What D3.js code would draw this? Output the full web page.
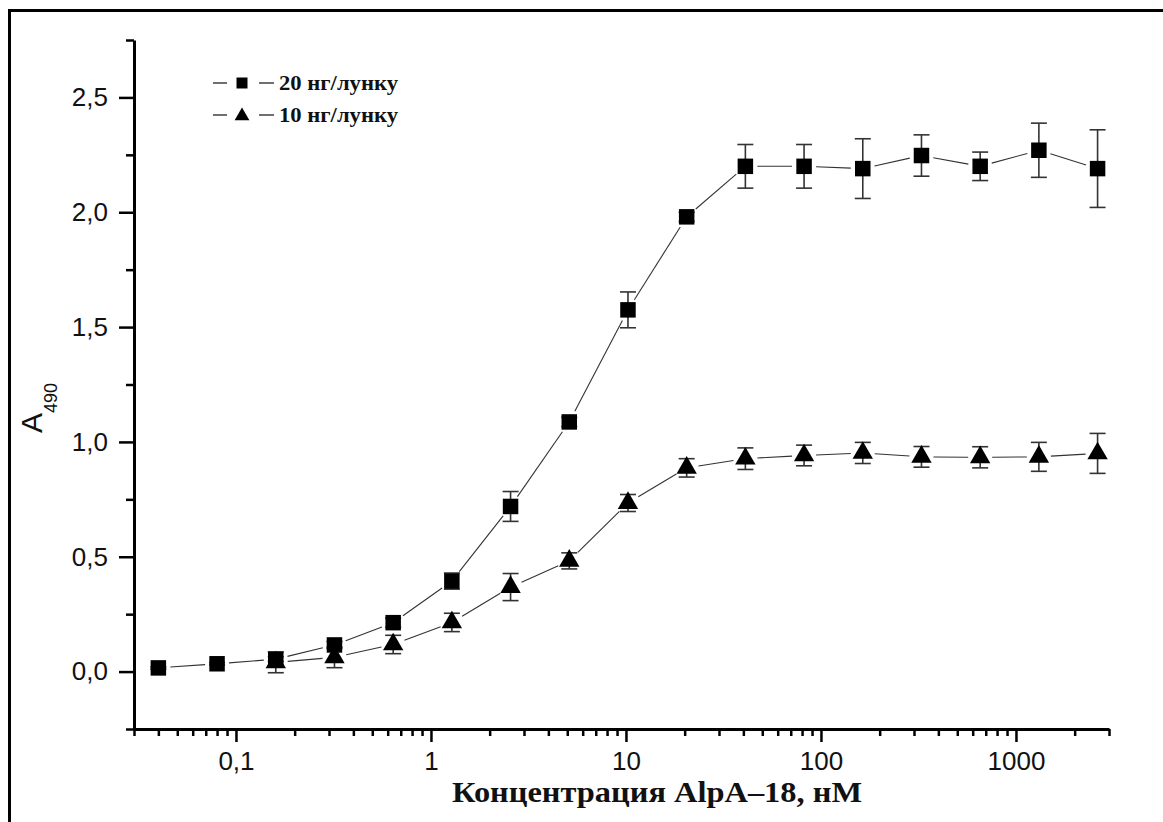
<!DOCTYPE html>
<html>
<head>
<meta charset="utf-8">
<script src="https://cdn.jsdelivr.net/npm/d3@7"></script>
<style>
    body { margin: 0; background: #fff; }
    svg text { fill: #111; }
    .axis text { font-family: "Liberation Sans", Arial, sans-serif; font-size: 26px; }
    .axis path, .axis line { stroke: #000; }
    .serif-bold { font-family: "Liberation Serif", "Times New Roman", serif; font-weight: bold; }
</style>
</head>
<body>
<div id="chart"></div>
<script>

// AlpA-18 concentration, nM
let conc20 = [0.04, 0.08, 0.16, 0.32, 0.64, 1.28, 2.56, 5.12, 10.24, 20.48, 40.96, 81.92, 163.84, 327.68, 655.36, 1310.72, 2621.44];
// 20 ng per well
let a490_20 = [0.016, 0.034, 0.054, 0.116, 0.213, 0.394, 0.719, 1.087, 1.575, 1.98, 2.20, 2.20, 2.19, 2.247, 2.20, 2.27, 2.19];
let err_20 = [0.005, 0.005, 0.01, 0.015, 0.02, 0.035, 0.065, 0.02, 0.078, 0.02, 0.095, 0.095, 0.13, 0.09, 0.062, 0.118, 0.169];

let conc10 = [0.16, 0.32, 0.64, 1.28, 2.56, 5.12, 10.24, 20.48, 40.96, 81.92, 163.84, 327.68, 655.36, 1310.72, 2621.44];
// 10 ng per well
let a490_10 = [0.040, 0.062, 0.118, 0.214, 0.368, 0.482, 0.734, 0.887, 0.927, 0.941, 0.952, 0.935, 0.933, 0.935, 0.95];
let err_10 = [0.045, 0.045, 0.04, 0.04, 0.059, 0.035, 0.037, 0.04, 0.047, 0.045, 0.046, 0.045, 0.046, 0.063, 0.087];

let legendLabels = ["20 нг/лунку", "10 нг/лунку"];

let xTickValues = [0.1, 1, 10, 100, 1000];
let xTickLabels = ["0,1", "1", "10", "100", "1000"];
let yTickValues = [0, 0.5, 1, 1.5, 2, 2.5];
let yTickLabels = ["0,0", "0,5", "1,0", "1,5", "2,0", "2,5"];
let yMinorValues = [-0.25, 0.25, 0.75, 1.25, 1.75, 2.25, 2.75];


class BindingVis {

    constructor(parentElement) {
        this.parentElement = parentElement;
        this.initVis();
    }

    initVis() {
        let vis = this;

        vis.margin = {top: 40, right: 54, bottom: 93, left: 134};
        vis.width = 1163 - vis.margin.left - vis.margin.right;
        vis.height = 822 - vis.margin.top - vis.margin.bottom;

        vis.root = d3.select("#" + vis.parentElement).append("svg")
            .attr("width", 1163)
            .attr("height", 822);

        // outer frame (top + left only)
        vis.root.append("path")
            .attr("d", "M9.5,822 V10.5 H1163")
            .attr("fill", "none")
            .attr("stroke", "#000")
            .attr("stroke-width", 3);

        vis.svg = vis.root.append("g")
            .attr("transform", `translate(${vis.margin.left}, ${vis.margin.top})`);

        // Scales
        vis.x = d3.scaleLog()
            .domain([0.03, 3000])
            .range([0, vis.width]);

        vis.y = d3.scaleLinear()
            .domain([-0.25, 2.75])
            .range([vis.height, 0]);

        vis.wrangleData();
    }

    wrangleData() {
        let vis = this;

        vis.displayData = [
            {key: "sq", symbol: d3.symbolSquare, size: 240,
                values: conc20.map((c, i) => ({conc: c, a: a490_20[i], err: err_20[i]}))},
            {key: "tri", symbol: d3.symbolTriangle, size: 180,
                values: conc10.map((c, i) => ({conc: c, a: a490_10[i], err: err_10[i]}))}
        ];

        vis.updateVis();
    }

    updateVis() {
        let vis = this;
        let gap = 12;

        // connecting lines, cut short around each marker
        vis.displayData.forEach(s => {
            let segs = [];
            for (let i = 0; i < s.values.length - 1; i++) {
                let x1 = vis.x(s.values[i].conc), y1 = vis.y(s.values[i].a);
                let x2 = vis.x(s.values[i + 1].conc), y2 = vis.y(s.values[i + 1].a);
                let len = Math.hypot(x2 - x1, y2 - y1);
                let ux = (x2 - x1) / len, uy = (y2 - y1) / len;
                if (len > 2 * gap) segs.push([x1 + ux * gap, y1 + uy * gap, x2 - ux * gap, y2 - uy * gap]);
            }
            vis.svg.append("g").selectAll("line")
                .data(segs)
                .enter().append("line")
                .attr("x1", d => d[0]).attr("y1", d => d[1])
                .attr("x2", d => d[2]).attr("y2", d => d[3])
                .attr("stroke", "#333")
                .attr("stroke-width", 1.1);
        });

        // error bars
        vis.displayData.forEach(s => {
            let g = vis.svg.append("g").selectAll("g")
                .data(s.values)
                .enter().append("g")
                .attr("stroke", "#333")
                .attr("stroke-width", 1.6);
            g.append("line")
                .attr("x1", d => vis.x(d.conc)).attr("x2", d => vis.x(d.conc))
                .attr("y1", d => vis.y(d.a + d.err)).attr("y2", d => vis.y(d.a - d.err));
            g.append("line")
                .attr("x1", d => vis.x(d.conc) - 8).attr("x2", d => vis.x(d.conc) + 8)
                .attr("y1", d => vis.y(d.a + d.err)).attr("y2", d => vis.y(d.a + d.err));
            g.append("line")
                .attr("x1", d => vis.x(d.conc) - 8).attr("x2", d => vis.x(d.conc) + 8)
                .attr("y1", d => vis.y(d.a - d.err)).attr("y2", d => vis.y(d.a - d.err));
        });

        // markers
        vis.displayData.forEach(s => {
            vis.svg.append("g").selectAll("path")
                .data(s.values)
                .enter().append("path")
                .attr("d", d3.symbol().type(s.symbol).size(s.size))
                .attr("transform", d => `translate(${vis.x(d.conc)},${vis.y(d.a)})`)
                .attr("fill", "#000");
        });

        // Y axis
        let yMajor = d3.axisLeft(vis.y)
            .tickValues(yTickValues)
            .tickFormat((d, i) => yTickLabels[i])
            .tickSize(15)
            .tickSizeOuter(0)
            .tickPadding(11);
        let yMinor = d3.axisLeft(vis.y)
            .tickValues(yMinorValues)
            .tickFormat("")
            .tickSize(8)
            .tickSizeOuter(0);

        vis.svg.append("g").attr("class", "axis y-minor").call(yMinor)
            .call(g => g.select(".domain").remove());
        vis.svg.append("g").attr("class", "axis y-axis").call(yMajor);

        // X axis
        let isDecade = d => Math.abs(Math.log10(d) - Math.round(Math.log10(d))) < 1e-6;
        let xMajor = d3.axisBottom(vis.x)
            .tickValues(xTickValues)
            .tickFormat((d, i) => xTickLabels[i])
            .tickSize(13)
            .tickSizeOuter(0)
            .tickPadding(10);
        let xMinor = d3.axisBottom(vis.x)
            .tickValues(vis.x.ticks().filter(d => !isDecade(d)))
            .tickFormat("")
            .tickSize(7)
            .tickSizeOuter(0);

        vis.svg.append("g").attr("class", "axis x-minor")
            .attr("transform", `translate(0,${vis.height})`)
            .call(xMinor)
            .call(g => g.select(".domain").remove());
        vis.svg.append("g").attr("class", "axis x-axis")
            .attr("transform", `translate(0,${vis.height})`)
            .call(xMajor);

        vis.svg.selectAll(".axis .domain").attr("stroke-width", 3);
        vis.svg.selectAll(".axis .tick line").attr("stroke-width", 2.5);

        // axis titles
        vis.svg.append("text")
            .attr("class", "serif-bold")
            .attr("x", 318)
            .attr("y", vis.height + 73)
            .attr("textLength", 410)
            .attr("lengthAdjust", "spacingAndGlyphs")
            .style("font-size", "29px")
            .text("Концентрация AlpA–18, нМ");

        let yTitle = vis.root.append("text")
            .attr("transform", "translate(42,433) rotate(-90)")
            .style("font-family", "'Liberation Sans', Arial, sans-serif");
        yTitle.append("tspan").style("font-size", "30px").text("A");
        yTitle.append("tspan").style("font-size", "18px").attr("dy", 15).text("490");

        // legend
        let legend = vis.root.append("g")
            .attr("transform", "translate(213,83)");
        let items = legend.selectAll("g")
            .data(vis.displayData)
            .enter().append("g")
            .attr("transform", (d, i) => `translate(0,${i * 32})`);
        items.append("line")
            .attr("x1", 0).attr("x2", 14).attr("y1", 0).attr("y2", 0)
            .attr("stroke", "#222").attr("stroke-width", 1.3);
        items.append("line")
            .attr("x1", 46).attr("x2", 61).attr("y1", 0).attr("y2", 0)
            .attr("stroke", "#222").attr("stroke-width", 1.3);
        items.append("path")
            .attr("d", d => d3.symbol().type(d.symbol).size(d.key === "sq" ? 121 : 95)())
            .attr("transform", d => `translate(29,${d.key === "sq" ? 0 : 1})`)
            .attr("fill", "#000");
        items.append("text")
            .attr("class", "serif-bold")
            .attr("x", 66)
            .attr("y", 6.5)
            .attr("textLength", 119)
            .attr("lengthAdjust", "spacingAndGlyphs")
            .style("font-size", "20px")
            .text((d, i) => legendLabels[i]);
    }
}

let myVis = new BindingVis("chart");

</script>
</body>
</html>
